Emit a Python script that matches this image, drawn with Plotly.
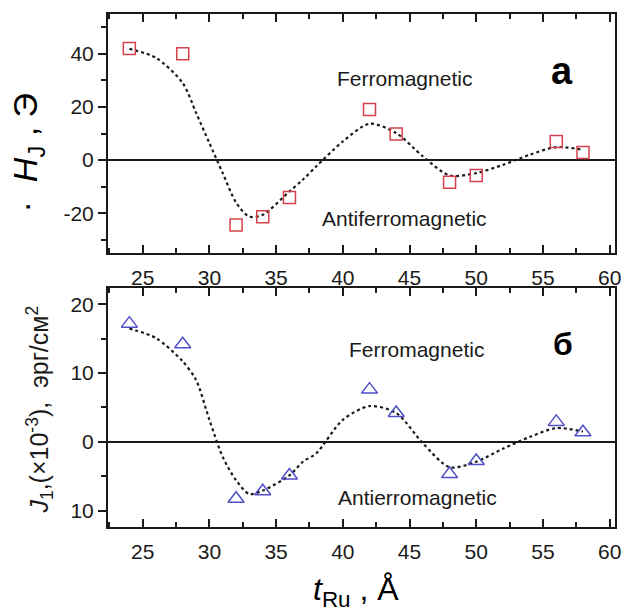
import plotly.graph_objects as go

# ---- data ----
t_ru = [24, 28, 32, 34, 36, 42, 44, 48, 50, 56, 58]
h_j = [42, 40, -24.4, -21.3, -14.1, 19, 9.8, -8.3, -5.8, 7.0, 2.9]
j_1 = [17.2, 14.2, -8.3, -7.2, -4.9, 7.6, 4.2, -4.7, -2.8, 2.9, 1.4]

fit_t = [24, 26, 28, 29, 30, 31, 32, 33, 34, 36, 37, 38, 40, 42, 44, 46, 48, 50, 52, 54, 56, 58]
fit_h = [41.9, 38.5, 29, 17.8, 6.4, -4.9, -16, -21.3, -20.6, -11.8, -7.4, -2.4, 7, 13.7,
         10.2, 1.4, -5.8, -4.9, -1.8, 2, 4.9, 3.9]
fit_j = [16.5, 15.1, 11.7, 9, 3.2, -2.2, -5.6, -7.6, -7.1, -4.9, -2.9, -1.7, 3.2, 5.2,
         4.2, -0.2, -3.7, -2.9, -1, 0.7, 2.0, 1.5]

x_tickvals = [25, 30, 35, 40, 45, 50, 55, 60]
x_ticktext = ["25", "30", "35", "40", "45", "50", "55", "60"]
h_tickvals = [-20, 0, 20, 40]
h_ticktext = ["-20", "0", "20", "40"]
j_tickvals = [-10, 0, 10, 20]
j_ticktext = ["10", "0", "10", "20"]

FONT = "Arial, Liberation Sans, sans-serif"
INK = "#1a1a1a"
RED = "#d6404a"
BLUE = "#5050c8"

fig = go.Figure()

fig.add_trace(go.Scatter(x=fit_t, y=fit_h, mode="lines", xaxis="x", yaxis="y",
                         line=dict(color=INK, width=2.2, dash="3px,3px", shape="spline", smoothing=0.8),
                         showlegend=False, hoverinfo="skip"))
fig.add_trace(go.Scatter(x=t_ru, y=h_j, mode="markers", xaxis="x", yaxis="y",
                         marker=dict(symbol="square-open", size=12, color=RED, line=dict(width=1.5, color=RED)),
                         showlegend=False))
fig.add_trace(go.Scatter(x=fit_t, y=fit_j, mode="lines", xaxis="x2", yaxis="y2",
                         line=dict(color=INK, width=2.2, dash="3px,3px", shape="spline", smoothing=0.8),
                         showlegend=False, hoverinfo="skip"))
fig.add_trace(go.Scatter(x=t_ru, y=j_1, mode="markers", xaxis="x2", yaxis="y2",
                         marker=dict(symbol="triangle-up-open", size=14, color=BLUE, line=dict(width=1.5, color=BLUE)),
                         showlegend=False))

xcommon = dict(range=[22.4, 60.4], tickmode="array", tickvals=x_tickvals, ticktext=x_ticktext,
               ticks="inside", ticklen=8, tickwidth=2, tickcolor=INK,
               showline=True, linewidth=2, linecolor=INK, mirror="ticks",
               showgrid=False, zeroline=False, ticklabelstandoff=5,
               tickfont=dict(family=FONT, size=21, color=INK),
               minor=dict(tickmode="linear", tick0=0, dtick=2.5, ticks="inside", ticklen=5,
                          tickwidth=2, tickcolor=INK, showgrid=False))

def ycommon(rng, tv, tt, mdt):
    return dict(range=rng, tickmode="array", tickvals=tv, ticktext=tt,
                ticks="outside", ticklen=8, tickwidth=2, tickcolor=INK,
                showline=True, linewidth=2, linecolor=INK, mirror=True,
                showgrid=False, zeroline=True, zerolinecolor=INK, zerolinewidth=1.5,
                tickfont=dict(family=FONT, size=21, color=INK),
                minor=dict(tickmode="linear", tick0=0, dtick=mdt, ticks="outside", ticklen=5,
                           tickwidth=2, tickcolor=INK, showgrid=False))

def yright(rng, tv, mdt, over):
    return dict(range=rng, overlaying=over, side="right", tickmode="array", tickvals=tv,
                ticks="inside", ticklen=8, tickwidth=2, tickcolor=INK, showticklabels=False,
                showline=False, showgrid=False, zeroline=False,
                minor=dict(tickmode="linear", tick0=0, dtick=mdt, ticks="inside", ticklen=5,
                           tickwidth=2, tickcolor=INK, showgrid=False))

H_RANGE = [-35, 55]
J_RANGE = [-12.4, 22.4]

fig.update_layout(
    width=628, height=613,
    margin=dict(l=108, r=7, t=14, b=86),
    paper_bgcolor="white", plot_bgcolor="white",
    xaxis=dict(domain=[0, 1], anchor="y", **xcommon),
    yaxis=dict(domain=[0.534, 1], anchor="x", **ycommon(H_RANGE, h_tickvals, h_ticktext, 10)),
    xaxis2=dict(domain=[0, 1], anchor="y2", **xcommon),
    yaxis2=dict(domain=[0, 0.466], anchor="x2", **ycommon(J_RANGE, j_tickvals, j_ticktext, 5)),
    yaxis3=dict(anchor="x", **yright(H_RANGE, h_tickvals, 10, "y")),
    yaxis4=dict(anchor="x2", **yright(J_RANGE, j_tickvals, 5, "y2")),
)

ann_font = dict(family=FONT, size=21, color=INK)
annotations = [
    dict(text="Ferromagnetic", x=44.65, y=30.7, xref="x", yref="y", showarrow=False, font=ann_font),
    dict(text="Antiferromagnetic", x=44.6, y=-21.9, xref="x", yref="y", showarrow=False, font=ann_font),
    dict(text="<b>а</b>", x=56.4, y=33.4, xref="x", yref="y", showarrow=False,
         font=dict(family=FONT, size=38, color="black")),
    dict(text="Ferromagnetic", x=45.5, y=13.4, xref="x2", yref="y2", showarrow=False, font=ann_font),
    dict(text="Antierromagnetic", x=45.6, y=-8.05, xref="x2", yref="y2", showarrow=False, font=ann_font),
    dict(text="<b>б</b>", x=56.5, y=14.2, xref="x2", yref="y2", showarrow=False,
         font=dict(family=FONT, size=32, color="black")),
    # axis titles
    dict(text="·  <i>H</i><sub>J</sub> , Э", x=-0.158, y=0.73, xref="paper", yref="paper",
         xanchor="center", yanchor="middle",
         textangle=-90, showarrow=False, font=dict(family=FONT, size=34, color="black")),
    dict(text="<i>J</i><sub>1</sub>,(×10<sup>-3</sup>),  эрг/см<sup>2</sup>", x=-0.135, y=0.228,
         xref="paper", yref="paper", xanchor="center", yanchor="middle",
         textangle=-90, showarrow=False,
         font=dict(family=FONT, size=25, color=INK)),
    dict(text="<i>t</i><sub>Ru</sub> , Å", x=0.49, y=-0.125, xref="paper", yref="paper",
         xanchor="center", yanchor="middle", showarrow=False,
         font=dict(family=FONT, size=32, color="black")),
]
fig.update_layout(annotations=annotations)

fig.write_html("out.html")
